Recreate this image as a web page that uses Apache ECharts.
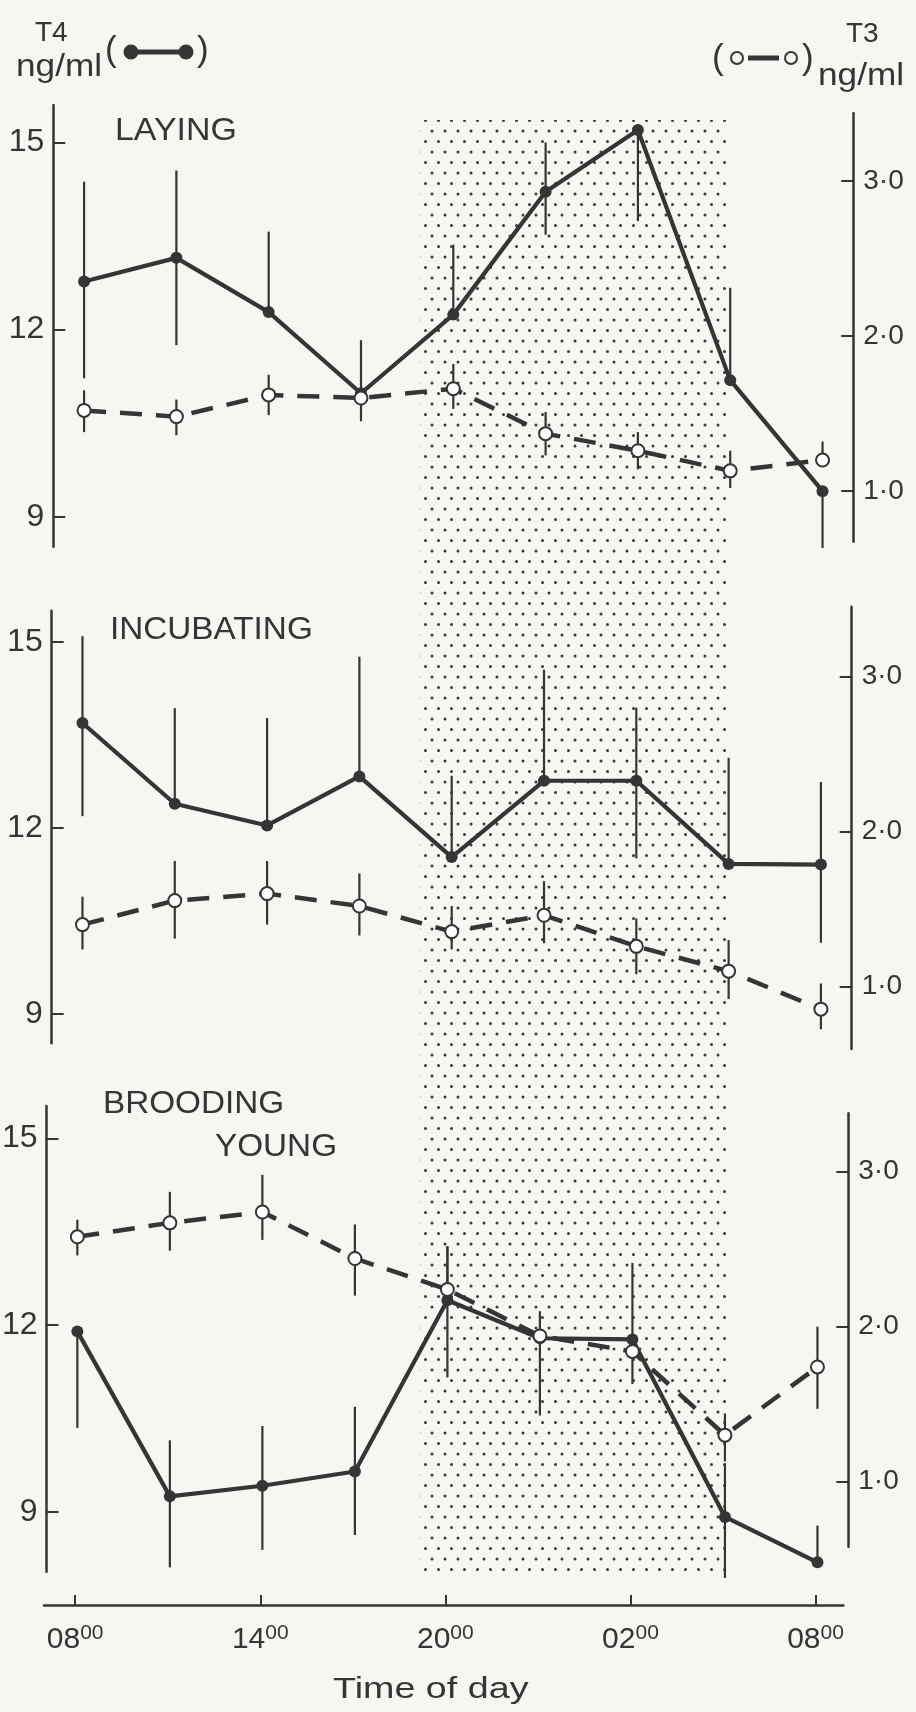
<!DOCTYPE html>
<html>
<head>
<meta charset="utf-8">
<script src="https://cdn.jsdelivr.net/npm/echarts@6/dist/echarts.min.js"></script>
<style>
html, body { margin: 0; padding: 0; background: #f6f6f3; }
#main { width: 916px; height: 1712px; }
</style>
</head>
<body>
<div id="main"></div>
<script>
// hours after 08:00, one sample every 3 h
var hours = [0, 3, 6, 9, 12, 15, 18, 21, 24];
var tickHours = [0, 6, 12, 18, 24];
var tickLabels = ['08', '14', '20', '02', '08'];
var t4Ticks = [9, 12, 15];
var t3Ticks = [1, 2, 3];
var darkPeriod = [11, 21]; // 19:00 - 05:00

var layingT4 = [12.77, 13.15, 12.28, 10.98, 12.24, 14.21, 15.2, 11.19, 9.41];
var layingT4Err = [[11.22, 14.37], [11.75, 14.55], [12.28, 13.57], [10.98, 11.83], [12.24, 13.36], [13.52, 15.0], [13.74, 15.2], [11.19, 12.67], [8.50, 9.41]];
var layingT3 = [1.52, 1.48, 1.62, 1.60, 1.66, 1.37, 1.26, 1.13, 1.20];
var layingT3Err = [[1.38, 1.65], [1.36, 1.59], [1.49, 1.75], [1.45, 1.60], [1.53, 1.82], [1.23, 1.51], [1.14, 1.38], [1.02, 1.26], [1.20, 1.32]];

var incubT4 = [13.69, 12.39, 12.04, 12.83, 11.53, 12.76, 12.76, 11.42, 11.41];
var incubT4Err = [[12.19, 15.09], [12.39, 13.93], [12.04, 13.77], [12.83, 14.76], [11.53, 12.84], [12.76, 14.55], [11.51, 13.94], [11.42, 13.13], [10.15, 12.74]];
var incubT3 = [1.40, 1.555, 1.60, 1.52, 1.355, 1.46, 1.26, 1.10, 0.855];
var incubT3Err = [[1.24, 1.58], [1.31, 1.81], [1.40, 1.81], [1.33, 1.73], [1.24, 1.52], [1.28, 1.68], [1.08, 1.44], [0.92, 1.30], [0.725, 1.02]];

var broodT4 = [11.90, 9.25, 9.42, 9.65, 12.40, 11.79, 11.77, 8.92, 8.19];
var broodT4Err = [[10.35, 11.90], [8.11, 10.15], [8.39, 10.38], [8.63, 10.69], [11.16, 13.26], [10.55, 11.79], [11.77, 13.0], [7.94, 9.78], [8.19, 8.78]];
var broodT3 = [2.58, 2.67, 2.74, 2.44, 2.24, 1.94, 1.84, 1.30, 1.74];
var broodT3Err = [[2.46, 2.69], [2.49, 2.87], [2.56, 2.98], [2.20, 2.66], [2.24, 2.52], [1.94, 2.10], [1.63, 1.84], [1.13, 1.44], [1.47, 2.0]];

var ink = '#353535';
var bg = '#f6f6f3';
var fam = '"Liberation Sans", Arial, sans-serif';

// dotted screen for the dark period
var pat = document.createElement('canvas');
pat.width = 13; pat.height = 21;
var ctx = pat.getContext('2d');
ctx.fillStyle = '#3a3a3a';
ctx.beginPath(); ctx.arc(3, 5, 1.5, 0, Math.PI * 2); ctx.fill();
ctx.beginPath(); ctx.arc(9.5, 15.5, 1.5, 0, Math.PI * 2); ctx.fill();

// panel layout: [left, width, leftTop, leftHeight, t4min, t4max, rightTop, rightHeight, t3min, t3max]
var panels = [
    [53.3, 800, 105, 441.7, 8.52, 15.60, 113.3, 428.4, 0.673, 3.437],
    [51.7, 800, 610.7, 432.6, 8.53, 15.50, 606.7, 442.3, 0.598, 3.45],
    [46.5, 801.8, 1106, 465.7, 8.04, 15.52, 1113.3, 433.4, 0.58, 3.377]
];

var grids = [], xAxes = [], yAxes = [], series = [];

function hiddenX(g, min, max) {
    return { type: 'value', gridIndex: g, min: min, max: max, show: false };
}

function errBars(g, err) {
    return {
        type: 'custom', xAxisIndex: g, yAxisIndex: g, z: 3, clip: false, silent: true,
        data: hours.map(function (h, i) { return [h, err[i][0], err[i][1]]; }),
        renderItem: function (params, api) {
            var a = api.coord([api.value(0), api.value(1)]);
            var b = api.coord([api.value(0), api.value(2)]);
            return {
                type: 'line',
                shape: { x1: a[0], y1: a[1], x2: b[0], y2: b[1] },
                style: { stroke: ink, lineWidth: 2.2 }
            };
        }
    };
}

function addPanel(p, t4, t4err, t3, t3err) {
    var gl = grids.length, gr = gl + 1;
    grids.push({ left: p[0], width: p[1], top: p[2], height: p[3], containLabel: false, outerBoundsMode: 'none' });
    grids.push({ left: p[0], width: p[1], top: p[6], height: p[7], containLabel: false, outerBoundsMode: 'none' });
    xAxes.push(hiddenX(gl, -1, 25), hiddenX(gr, -1, 25));
    yAxes.push({
        type: 'value', gridIndex: gl, position: 'left', min: p[4], max: p[5],
        axisLine: { show: true, onZero: false, lineStyle: { color: ink, width: 2.5 } },
        axisTick: { show: true, inside: true, length: 12, customValues: t4Ticks, lineStyle: { color: ink, width: 2 } },
        axisLabel: { customValues: t4Ticks, margin: 9, fontSize: 32, color: ink, fontFamily: fam },
        splitLine: { show: false }
    });
    yAxes.push({
        type: 'value', gridIndex: gr, position: 'right', min: p[8], max: p[9],
        axisLine: { show: true, onZero: false, lineStyle: { color: ink, width: 2.5 } },
        axisTick: { show: true, inside: true, length: 12, customValues: t3Ticks, lineStyle: { color: ink, width: 2 } },
        axisLabel: {
            customValues: t3Ticks, margin: 10, fontSize: 28, color: ink, fontFamily: fam,
            formatter: function (v) { return v.toFixed(1).replace('.', '\u00b7'); }
        },
        splitLine: { show: false }
    });
    series.push(errBars(gl, t4err));
    series.push({
        type: 'line', xAxisIndex: gl, yAxisIndex: gl, z: 4, clip: false,
        data: hours.map(function (h, i) { return [h, t4[i]]; }),
        symbol: 'circle', symbolSize: 12,
        lineStyle: { color: ink, width: 4.2 },
        itemStyle: { color: ink }
    });
    series.push(errBars(gr, t3err));
    series.push({
        type: 'line', xAxisIndex: gr, yAxisIndex: gr, z: 5, clip: false,
        data: hours.map(function (h, i) { return [h, t3[i]]; }),
        symbol: 'circle', symbolSize: 13,
        lineStyle: { color: ink, width: 4.5, type: [22, 14] },
        itemStyle: { color: '#ffffff', borderColor: ink, borderWidth: 2 }
    });
}

addPanel(panels[0], layingT4, layingT4Err, layingT3, layingT3Err);
addPanel(panels[1], incubT4, incubT4Err, incubT3, incubT3Err);
addPanel(panels[2], broodT4, broodT4Err, broodT3, broodT3Err);

// shaded dark period across all three panels
var gs = grids.length;
grids.push({ left: 51, width: 800, top: 120, height: 1452, containLabel: false, outerBoundsMode: 'none' });
xAxes.push(hiddenX(gs, -1, 25));
yAxes.push({ type: 'value', gridIndex: gs, min: 0, max: 1, show: false });
series.push({
    type: 'custom', xAxisIndex: gs, yAxisIndex: gs, z: 1, silent: true,
    data: [[darkPeriod[0], darkPeriod[1]]],
    renderItem: function (params, api) {
        var a = api.coord([api.value(0), 1]);
        var b = api.coord([api.value(1), 0]);
        return {
            type: 'rect',
            shape: { x: a[0], y: a[1], width: b[0] - a[0], height: b[1] - a[1] },
            style: { fill: { image: pat, repeat: 'repeat' } }
        };
    }
});

// time of day axis
var gb = grids.length;
grids.push({ left: 44, width: 799.3, top: 1595, height: 10, containLabel: false, outerBoundsMode: 'none' });
xAxes.push({
    type: 'value', gridIndex: gb, min: -1.01, max: 24.9, position: 'bottom',
    axisLine: { show: true, onZero: false, lineStyle: { color: ink, width: 2.5 } },
    axisTick: { show: true, inside: true, length: 10, customValues: tickHours, lineStyle: { color: ink, width: 2 } },
    axisLabel: {
        customValues: tickHours, margin: 18, color: ink, fontFamily: fam,
        formatter: function (v) {
            return '{a|' + tickLabels[Math.round(v / 6)] + '}{b|00}';
        },
        rich: {
            a: { fontSize: 30, lineHeight: 34, color: ink, fontFamily: fam },
            b: { fontSize: 21, lineHeight: 22, verticalAlign: 'top', color: ink, fontFamily: fam }
        }
    },
    splitLine: { show: false }
});
yAxes.push({ type: 'value', gridIndex: gb, min: 0, max: 1, show: false });

function label(x, y, text, size, sx) {
    return {
        type: 'text', x: x, y: y, scaleX: sx || 1, z: 10,
        style: { text: text, fontSize: size, fontFamily: fam, fill: ink, textVerticalAlign: 'middle' }
    };
}

var graphics = [
    label(35, 33, 'T4', 28),
    label(16, 67, 'ng/ml', 32, 1.1),
    label(105, 51, '(', 35),
    { type: 'line', shape: { x1: 131, y1: 52, x2: 186, y2: 52 }, style: { stroke: ink, lineWidth: 5 } },
    { type: 'circle', shape: { cx: 131, cy: 52, r: 7.5 }, style: { fill: ink } },
    { type: 'circle', shape: { cx: 186, cy: 52, r: 7.5 }, style: { fill: ink } },
    label(197, 51, ')', 35),

    label(846, 34, 'T3', 28),
    label(712, 59, '(', 35),
    { type: 'line', shape: { x1: 748, y1: 58, x2: 779, y2: 58 }, style: { stroke: ink, lineWidth: 5 } },
    { type: 'circle', shape: { cx: 737, cy: 58, r: 6 }, style: { fill: bg, stroke: ink, lineWidth: 2 } },
    { type: 'circle', shape: { cx: 791, cy: 58, r: 6 }, style: { fill: bg, stroke: ink, lineWidth: 2 } },
    label(802, 59, ')', 35),
    label(818, 76, 'ng/ml', 32, 1.1),

    label(115, 131, 'LAYING', 32, 1.06),
    label(110, 630, 'INCUBATING', 32, 1.04),
    label(103, 1104, 'BROODING', 32, 1.04),
    label(215, 1147, 'YOUNG', 32, 1.04),
    label(333, 1690, 'Time of day', 29, 1.3)
];

var chart = echarts.init(document.getElementById('main'), null, { width: 916, height: 1712 });
chart.setOption({
    backgroundColor: bg,
    animation: false,
    grid: grids,
    xAxis: xAxes,
    yAxis: yAxes,
    series: series,
    graphic: graphics
});
</script>
</body>
</html>
